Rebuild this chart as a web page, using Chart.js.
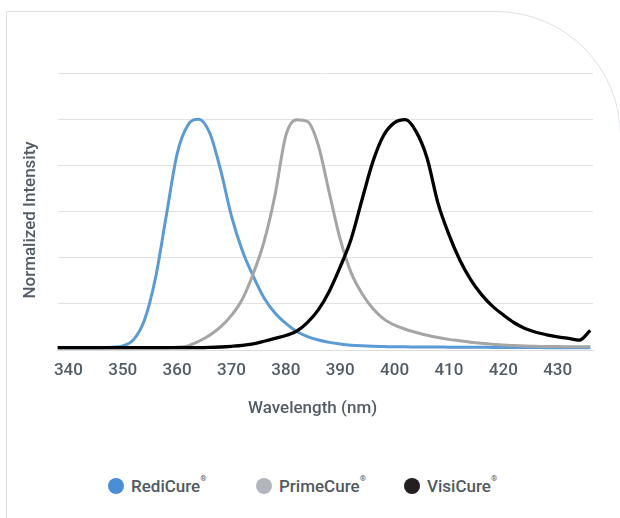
<!DOCTYPE html>
<html>
<head>
<meta charset="utf-8">
<script src="https://cdn.jsdelivr.net/npm/chart.js@4.4.1/dist/chart.umd.min.js"></script>
<style>
  html, body { margin: 0; padding: 0; background: #ffffff; overflow: hidden; }
  body { width: 620px; height: 518px; position: relative; font-family: Roboto, "DejaVu Sans", sans-serif; }
  #card { position: absolute; left: 6px; top: 11px; width: 615px; height: 600px; border: 1px solid #dde2e8; border-top-right-radius: 125px; box-sizing: border-box; }
  #chart { position: absolute; left: 0; top: 0; }
  #legend { position: absolute; left: 0; top: 474px; width: 620px; height: 24px; }
  .item { position: absolute; top: 0; height: 24px; display: flex; align-items: center; color: #505a64; font-size: 17px; font-weight: 500; white-space: nowrap; }
  .dot { width: 16px; height: 16px; border-radius: 50%; margin-right: 7px; }
  .item sup { font-size: 8px; position: relative; top: -1px; vertical-align: top; line-height: 1; }
</style>
</head>
<body>
<div id="card"></div>
<canvas id="chart" width="620" height="445"></canvas>
<div id="legend"></div>
<script>
// ---- data ----
const wavelengths = [338,340,342,344,346,348,350,352,354,356,358,360,362,364,366,368,370,372,374,376,378,380,382,384,386,388,390,392,394,396,398,400,402,404,406,408,410,412,414,416,418,420,422,424,426,428,430,432,434,436];
const rediCure = [0.01,0.01,0.01,0.01,0.01,0.012,0.018,0.045,0.13,0.31,0.58,0.85,0.975,1.0,0.94,0.78,0.58,0.43,0.32,0.225,0.16,0.115,0.08,0.058,0.043,0.033,0.026,0.021,0.018,0.016,0.015,0.014,0.014,0.013,0.013,0.013,0.012,0.012,0.012,0.012,0.011,0.011,0.011,0.011,0.011,0.01,0.01,0.01,0.01,0.01];
const primeCure = [0.01,0.01,0.01,0.01,0.01,0.01,0.01,0.01,0.01,0.01,0.01,0.012,0.018,0.038,0.064,0.1,0.15,0.22,0.33,0.47,0.67,0.93,0.998,0.99,0.885,0.68,0.48,0.335,0.245,0.18,0.135,0.108,0.09,0.076,0.064,0.054,0.046,0.04,0.034,0.029,0.025,0.022,0.019,0.017,0.016,0.015,0.015,0.014,0.014,0.014];
const visiCure = [0.01,0.01,0.01,0.01,0.01,0.01,0.01,0.01,0.01,0.01,0.01,0.01,0.01,0.01,0.011,0.013,0.016,0.02,0.027,0.038,0.05,0.063,0.082,0.12,0.175,0.255,0.36,0.48,0.65,0.815,0.93,0.985,0.998,0.945,0.83,0.635,0.5,0.39,0.305,0.24,0.19,0.152,0.118,0.093,0.077,0.066,0.057,0.05,0.043,0.085];
const xTickLabels = [340,350,360,370,380,390,400,410,420,430];
const seriesNames = ["RediCure", "PrimeCure", "VisiCure"];
const seriesColors = ["#5b9bd5", "#a5a5a5", "#000000"];
const legendColors = ["#4a8fd6", "#b1b6bc", "#231f20"];

// ---- chart ----
const FONT = 'Roboto, "DejaVu Sans", sans-serif';
const TEXT = '#525c66';
const toXY = vals => wavelengths.map((w, i) => ({ x: w, y: vals[i] }));
const allValues = [rediCure, primeCure, visiCure];

const chart = new Chart(document.getElementById('chart'), {
  type: 'line',
  data: {
    datasets: allValues.map((vals, i) => ({
      label: seriesNames[i] + '®',
      data: toXY(vals),
      borderColor: seriesColors[i],
      backgroundColor: seriesColors[i],
      borderWidth: i === 2 ? 3.3 : 3,
      pointRadius: 0,
      cubicInterpolationMode: 'monotone',
      fill: false,
      order: 2 - i
    }))
  },
  options: {
    responsive: false,
    animation: false,
    devicePixelRatio: 1,
    layout: { padding: { left: 0, right: 27, top: 73, bottom: 0 } },
    plugins: { legend: { display: false }, tooltip: { enabled: false } },
    scales: {
      x: {
        type: 'linear',
        min: 338,
        max: 436.5,
        afterBuildTicks: s => { s.ticks = xTickLabels.map(v => ({ value: v })); },
        afterFit: s => { s.height = 95; },
        grid: { display: false, drawTicks: false },
        border: { display: true, color: '#dcdcdc', width: 1 },
        ticks: { color: TEXT, font: { family: FONT, size: 17, weight: 500 }, padding: 11, maxRotation: 0, autoSkip: false },
        title: { display: true, text: 'Wavelength (nm)      ', color: TEXT, font: { family: FONT, size: 17, weight: 500 }, padding: { top: 0, bottom: 26 } }
      },
      y: {
        min: 0,
        max: 1.2,
        afterFit: s => { s.width = 57.5; },
        ticks: { display: false, stepSize: 0.2 },
        grid: { color: '#e2e2e2', lineWidth: 1, drawTicks: false },
        border: { display: false },
        title: { display: true, text: 'Normalized Intensity    ', color: TEXT, font: { family: FONT, size: 17, weight: 500 }, padding: { top: 21, bottom: 0 } }
      }
    }
  }
});

// ---- legend (HTML, superscript ®) ----
const legendLefts = [108, 256, 404];
const legend = document.getElementById('legend');
seriesNames.forEach((name, i) => {
  const item = document.createElement('div');
  item.className = 'item';
  item.style.left = legendLefts[i] + 'px';
  const dot = document.createElement('span');
  dot.className = 'dot';
  dot.style.background = legendColors[i];
  const label = document.createElement('span');
  label.innerHTML = name + '<sup>®</sup>';
  item.appendChild(dot);
  item.appendChild(label);
  legend.appendChild(item);
});
</script>
</body>
</html>
